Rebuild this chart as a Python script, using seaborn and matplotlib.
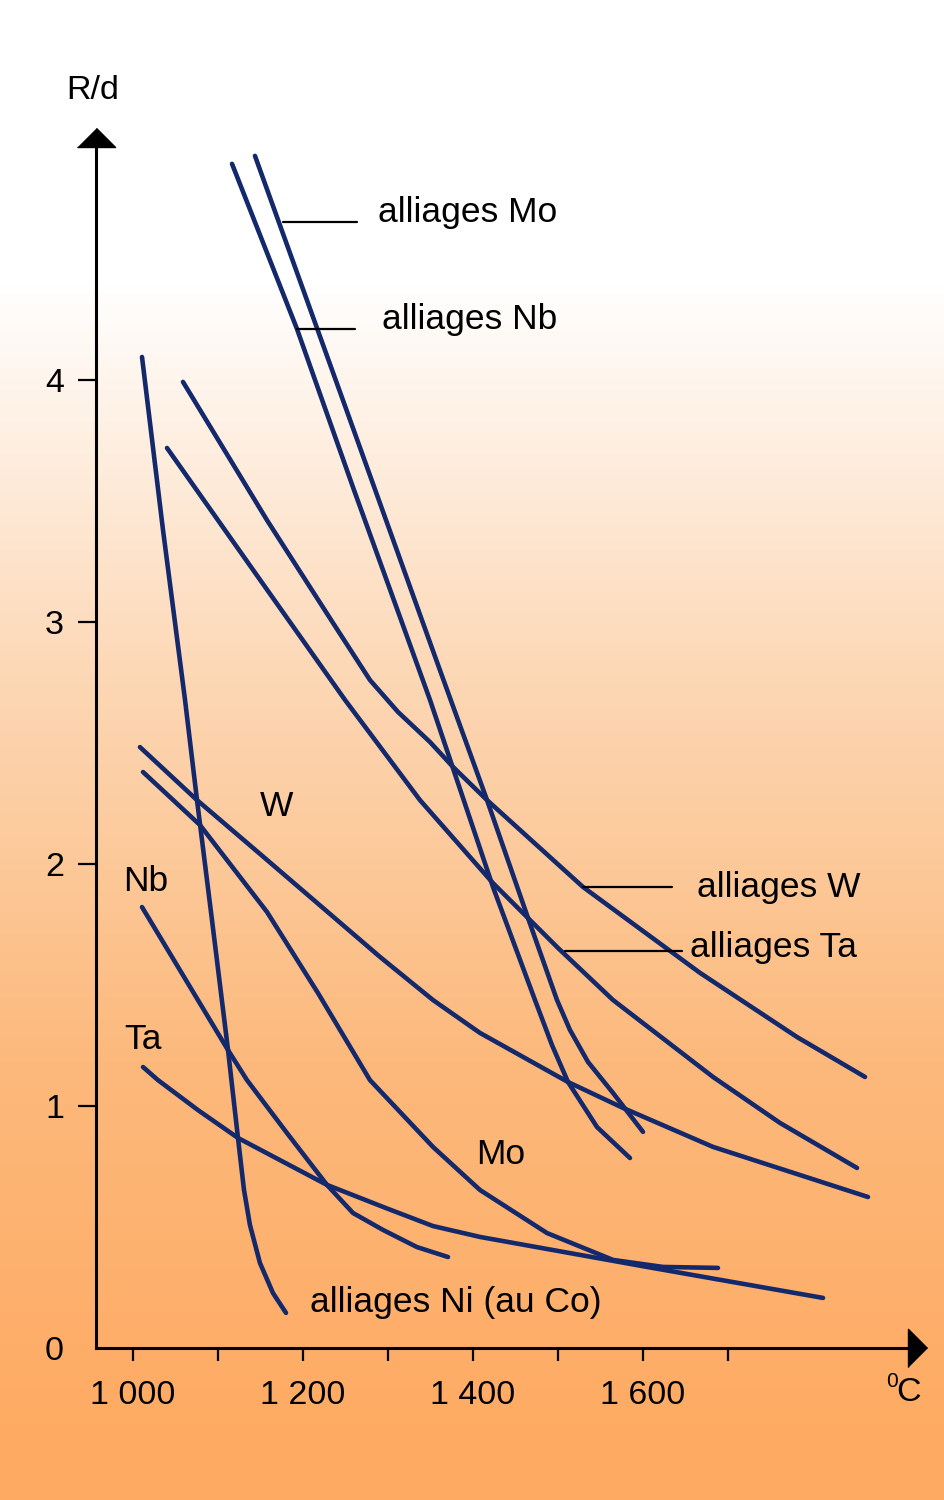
import numpy as np
import pandas as pd
import matplotlib
matplotlib.use("Agg")
import matplotlib.pyplot as plt
import seaborn as sns
from matplotlib.colors import LinearSegmentedColormap

# curves: temperature (°C) vs R/d
ni_t = [1010.6, 1035.3, 1061.2, 1075.3, 1092.9, 1111.8, 1123.5, 1130.6, 1137.6, 1149.4, 1164.7, 1180.0]
ni_r = [4.095, 3.380, 2.678, 2.264, 1.769, 1.231, 0.868, 0.653, 0.508, 0.351, 0.227, 0.145]

mo_all_t = [1143.5, 1249.4, 1357.6, 1416.5, 1464.7, 1498.8, 1514.1, 1535.3, 1564.7, 1600.0]
mo_all_r = [4.926, 3.893, 2.835, 2.264, 1.777, 1.438, 1.314, 1.182, 1.054, 0.893]

nb_all_t = [1116.5, 1192.9, 1260.0, 1349.4, 1423.5, 1472.9, 1492.9, 1511.8, 1545.9, 1584.7]
nb_all_r = [4.893, 4.211, 3.545, 2.678, 1.905, 1.438, 1.252, 1.099, 0.913, 0.785]

w_all_t = [1058.8, 1157.6, 1235.3, 1278.8, 1311.8, 1349.4, 1376.5, 1416.5, 1529.4, 1667.1, 1781.2, 1861.2]
w_all_r = [3.992, 3.421, 2.996, 2.760, 2.628, 2.504, 2.401, 2.264, 1.905, 1.550, 1.285, 1.120]

ta_all_t = [1040.0, 1144.7, 1249.4, 1337.6, 1423.5, 1500.0, 1564.7, 1682.4, 1761.2, 1851.8]
ta_all_r = [3.719, 3.198, 2.678, 2.264, 1.921, 1.653, 1.438, 1.120, 0.930, 0.744]

w_t = [1008.2, 1075.3, 1157.6, 1290.6, 1352.9, 1408.2, 1511.8, 1576.5, 1682.4, 1864.7]
w_r = [2.483, 2.264, 2.017, 1.616, 1.438, 1.302, 1.099, 0.992, 0.831, 0.624]

mo_t = [1011.8, 1078.8, 1157.6, 1217.6, 1278.8, 1352.9, 1408.2, 1487.1, 1564.7, 1623.5, 1688.2]
mo_r = [2.380, 2.161, 1.802, 1.467, 1.107, 0.831, 0.653, 0.475, 0.364, 0.335, 0.331]

nb_t = [1010.6, 1111.8, 1134.1, 1181.2, 1228.2, 1258.8, 1294.1, 1334.1, 1370.6]
nb_r = [1.822, 1.231, 1.107, 0.888, 0.674, 0.558, 0.488, 0.417, 0.376]

ta_t = [1011.8, 1029.4, 1076.5, 1123.5, 1228.2, 1300.0, 1352.9, 1408.2, 1604.7, 1811.8]
ta_r = [1.161, 1.107, 0.983, 0.868, 0.674, 0.575, 0.504, 0.459, 0.335, 0.207]

curves = {
    "Ni": (ni_t, ni_r), "Mo alliages": (mo_all_t, mo_all_r), "Nb alliages": (nb_all_t, nb_all_r),
    "W alliages": (w_all_t, w_all_r), "Ta alliages": (ta_all_t, ta_all_r),
    "W": (w_t, w_r), "Mo": (mo_t, mo_r), "Nb": (nb_t, nb_r), "Ta": (ta_t, ta_r),
}

y_ticks = [0, 1, 2, 3, 4]
x_ticks = [1000, 1200, 1400, 1600]
x_minor = [1100, 1300, 1500, 1700]
x_labels = ["1 000", "1 200", "1 400", "1 600"]

# labels with leader lines: (text, x, y, leader x0, leader x1, leader y)
leader_labels = [
    ("alliages Mo", 1288.2, 4.690, 1176.5, 1263.5, 4.653),
    ("alliages Nb", 1292.9, 4.248, 1192.9, 1261.2, 4.211),
    ("alliages W", 1663.5, 1.901, 1529.4, 1634.1, 1.905),
    ("alliages Ta", 1655.3, 1.653, 1508.2, 1645.9, 1.640),
]
plain_labels = [
    ("W", 1169.4, 2.236, "center"),
    ("Nb", 1015.3, 1.926, "center"),
    ("Ta", 1011.8, 1.273, "center"),
    ("Mo", 1432.9, 0.798, "center"),
    ("alliages Ni (au Co)", 1208.2, 0.190, "left"),
]

rows = []
for name, (t, r) in curves.items():
    for a, b in zip(t, r):
        rows.append({"courbe": name, "T": a, "Rd": b})
df = pd.DataFrame(rows)

sns.set_style("ticks")
plt.rcParams["font.family"] = ["Liberation Sans", "DejaVu Sans"]
plt.rcParams["text.color"] = "black"

NAVY = "#14286c"
fig = plt.figure(figsize=(9.44, 15), dpi=100)
ax = fig.add_axes([0, 0, 1, 1])
xmin, xmax = 843.53, 1954.12
ymin, ymax = -0.628, 5.570
ax.set_xlim(xmin, xmax)
ax.set_ylim(ymin, ymax)

# background gradient white -> orange
py = np.arange(1500)
t = np.clip((py - 280) / (1450 - 280), 0, 1).reshape(-1, 1)
cmap = LinearSegmentedColormap.from_list("bg", ["#ffffff", "#fdd8b6", "#fcb97c", "#ffaa62"])
ax.imshow(t, cmap=cmap, aspect="auto", extent=[xmin, xmax, ymin, ymax],
          origin="upper", zorder=0, vmin=0, vmax=1)

sns.lineplot(data=df, x="T", y="Rd", units="courbe", estimator=None, sort=False,
             color=NAVY, lw=3.3, solid_capstyle="round", solid_joinstyle="round",
             legend=False, ax=ax, zorder=3)

# axes with arrows
for s in ["top", "right"]:
    ax.spines[s].set_visible(False)
ax.spines["left"].set_position(("data", 956.5))
ax.spines["bottom"].set_position(("data", 0))
ax.spines["left"].set_bounds(0, 4.97)
ax.spines["bottom"].set_bounds(956.5, 1912)
for s in ["left", "bottom"]:
    ax.spines[s].set_linewidth(2.2)
    ax.spines[s].set_color("black")
ax.plot([956.5], [4.963], marker=[(-1, 0), (1, 0), (0, 1)], ms=27.5, color="black",
        clip_on=False, zorder=5)
ax.plot([1911.8], [0], marker=[(0, -1), (0, 1), (1, 0)], ms=27.5, color="black",
        clip_on=False, zorder=5)

ax.set_yticks(y_ticks)
ax.set_yticklabels([str(v) for v in y_ticks])
ax.set_xticks(x_ticks)
ax.set_xticklabels(x_labels)
ax.set_xticks(x_minor, minor=True)
ax.tick_params(axis="y", direction="out", length=13, width=1.6, pad=10, labelsize=24.5,
               colors="black", labelcolor="black")
ax.tick_params(axis="x", which="both", direction="out", length=9, width=1.6, pad=14, labelsize=24.5,
               colors="black", labelcolor="black")
ax.yaxis.get_major_ticks()[0].tick1line.set_visible(False)
ax.set_xlabel("")
ax.set_ylabel("")

ax.text(952.9, 5.195, "R/d", fontsize=24.5, ha="center", va="center")
ax.text(1893, -0.14, "0", fontsize=15, ha="center", va="center")
ax.text(1913, -0.182, "C", fontsize=24.5, ha="center", va="center")

for txt, x, y, x0, x1, yl in leader_labels:
    ax.plot([x0, x1], [yl, yl], color="black", lw=1.6, zorder=4)
    ax.text(x, y, txt, fontsize=25.5, ha="left", va="center", zorder=6)
for txt, x, y, ha in plain_labels:
    ax.text(x, y, txt, fontsize=25.5, ha=ha, va="center", zorder=6)

fig.savefig("out.png", dpi=100)
